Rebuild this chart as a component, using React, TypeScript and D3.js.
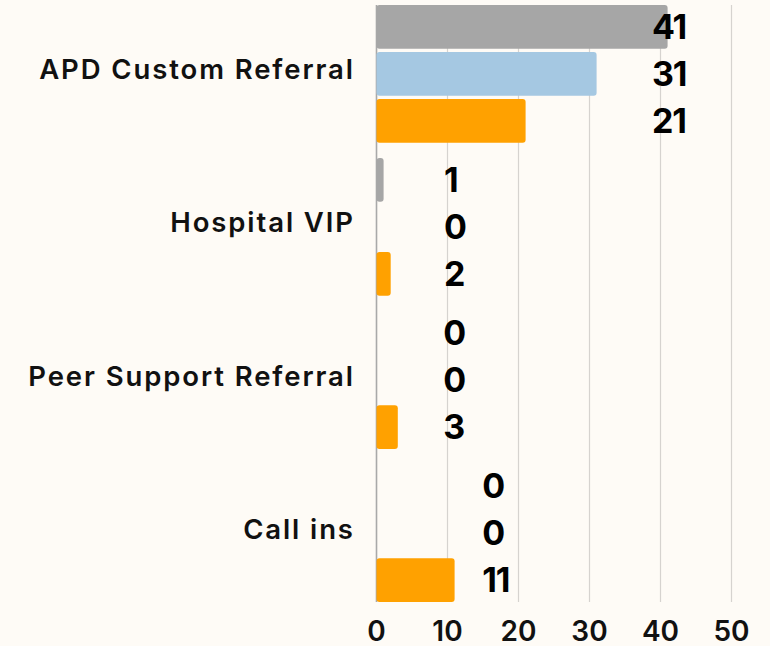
import React from "react";
import * as d3 from "d3";

const categories = ["APD Custom Referral", "Hospital VIP", "Peer Support Referral", "Call ins"];
const seriesNames = ["Series A", "Series B", "Series C"];
const seriesA = [41, 1, 0, 0];
const seriesB = [31, 0, 0, 0];
const seriesC = [21, 2, 3, 11];
const xTicks = [0, 10, 20, 30, 40, 50];
// where the value labels of each category start (in axis units)
const labelAnchors = [38.8, 9.5, 9.4, 14.9];

const W = 770;
const H = 646;
const colors = ["#a6a6a6", "#a5c8e2", "#ffa100"];
const FONT = "Inter, 'DejaVu Sans', sans-serif";
const LS = 1.9;

export default function App() {
  const series = [seriesA, seriesB, seriesC];
  const x = d3.scaleLinear().domain([0, 50]).range([376.5, 731.5]);
  const y0 = d3.scaleBand<string>().domain(categories).range([5, 602]).paddingInner(0.1).paddingOuter(0);
  const y1 = d3
    .scaleBand<string>()
    .domain(seriesNames)
    .range([0, y0.bandwidth()])
    .paddingInner(0.07)
    .paddingOuter(0);

  return (
    <svg
      width={W}
      height={H}
      style={{ position: "absolute", left: 0, top: 0, background: "#fefbf6" }}
    >
      <rect x={0} y={0} width={W} height={H} fill="#fefbf6" />
      {xTicks.map((t) => (
        <line
          key={"g" + t}
          x1={x(t)}
          x2={x(t)}
          y1={5}
          y2={602}
          stroke={t === 0 ? "#a9a9a9" : "#d6d3cf"}
          strokeWidth={t === 0 ? 1.6 : 1.2}
        />
      ))}
      {categories.map((c, ci) => (
        <g key={c} transform={`translate(0,${y0(c)})`}>
          {series.map((s, si) =>
            s[ci] > 0 ? (
              <rect
                key={si}
                x={x(0)}
                y={y1(seriesNames[si])}
                width={x(s[ci]) - x(0)}
                height={y1.bandwidth()}
                rx={3}
                fill={colors[si]}
              />
            ) : null
          )}
          {series.map((s, si) => (
            <text
              key={"l" + si}
              x={x(labelAnchors[ci])}
              y={(y1(seriesNames[si]) as number) + y1.bandwidth() / 2 + 12}
              fontFamily={FONT}
              fontWeight={700}
              fontSize={34}
              fill="#000"
              letterSpacing={-1.2}
            >
              {s[ci]}
            </text>
          ))}
          <text
            x={353 + LS}
            y={y0.bandwidth() / 2 + 5.5}
            textAnchor="end"
            fontFamily={FONT}
            fontWeight={600}
            fontSize={27.5}
            letterSpacing={LS}
            fill="#111"
          >
            {c}
          </text>
        </g>
      ))}
      {xTicks.map((t) => (
        <text
          key={"t" + t}
          x={x(t)}
          y={641}
          textAnchor="middle"
          fontFamily={FONT}
          fontWeight={600}
          fontSize={28}
          fill="#111"
        >
          {t}
        </text>
      ))}
    </svg>
  );
}
